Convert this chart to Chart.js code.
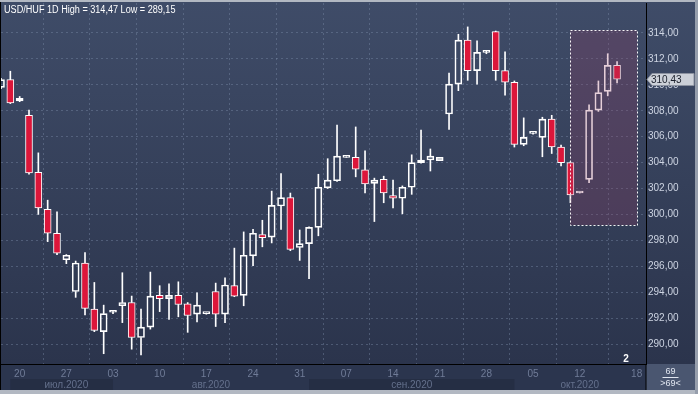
<!DOCTYPE html>
<html><head><meta charset="utf-8">
<script src="https://cdn.jsdelivr.net/npm/chart.js@4.4.0/dist/chart.umd.min.js"></script>
<style>html,body{margin:0;padding:0;background:#2b344c;overflow:hidden}#wrap{width:698px;height:394px;position:relative}canvas{display:block}</style>
</head><body><div id="wrap"><canvas id="c" width="698" height="394"></canvas></div>
<script>
const symbol = 'USD/HUF';
const period = '1D';
// trading days, index 0 = 16 Jul 2020 ... index 66 = 16 Oct 2020
const opens  = [309.8,310.4,308.75,307.65,303.25,300.4,298.55,296.5,294.05,296.25,
                292.7,290.95,292.45,292.95,293.2,290.5,291.3,293.75,293.5,293.75,
                293.1,292.3,292.35,294.05,292.3,294.5,293.75,296.8,298.45,298.25,
                300.65,301.3,297.45,297.75,299.0,302.05,302.6,304.4,304.4,303.45,
                302.4,302.7,301.45,301.25,302.1,304.0,304.2,304.15,307.75,310.05,
                313.45,311.1,312.5,314.1,311.1,310.2,305.4,306.25,305.95,307.35,
                305.2,304.0,301.65,302.7,308.05,309.5,311.5];
const highs  = [310.5,311.05,309.1,308.05,304.75,301.1,300.2,296.9,296.4,297.05,
                294.75,293.0,292.5,295.5,293.7,292.7,295.55,294.5,294.65,294.8,
                293.2,293.95,292.4,294.7,295.1,297.4,298.65,298.85,299.55,301.8,
                303.15,301.65,298.8,299.05,303.1,304.3,306.9,304.45,306.75,304.9,
                302.8,302.95,302.65,302.2,304.6,306.5,305.05,304.4,310.9,313.9,
                314.47,313.4,312.6,314.15,312.55,310.3,307.45,306.3,307.5,307.65,
                305.35,304.05,301.7,308.45,310.3,312.4,311.8];
const lows   = [309.7,308.55,308.7,303.1,300.0,297.9,296.9,296.2,293.6,292.25,
                290.95,289.25,292.35,291.65,289.6,289.15,291.15,292.5,291.9,292.1,
                290.9,291.7,292.3,291.35,291.65,293.65,292.95,296.05,297.5,297.8,
                298.85,297.2,296.45,295.05,298.35,302.0,302.55,304.4,302.9,301.65,
                299.45,300.9,300.5,300.05,301.55,303.95,303.35,304.15,306.55,309.55,
                310.35,310.05,312.4,310.35,309.2,305.2,305.3,306.2,304.45,304.7,
                303.75,300.9,301.65,302.45,307.95,309.15,310.15];
const closes = [310.4,308.6,308.95,303.2,300.5,298.55,297.0,296.85,296.25,292.75,
                291.05,292.35,292.5,293.2,290.5,291.3,293.7,293.5,293.75,293.05,
                292.2,293.0,292.4,292.3,294.55,293.7,296.85,298.55,298.2,300.7,
                301.3,297.3,297.75,299.0,302.1,302.65,304.5,304.45,303.5,302.35,
                302.65,301.65,301.25,302.1,304.0,304.2,304.5,304.4,310.05,313.45,
                311.1,312.5,312.55,311.1,310.2,305.4,305.95,306.3,307.35,305.2,
                304.0,301.5,301.7,308.05,309.4,311.5,310.43];
const tickDays   = ['20','27','03','10','17','24','31','07','14','21','28','05','12','18'];
const tickIndex  = [2,7,12,17,22,27,32,37,42,47,52,57,62,68.1];
const monthNames = ['июл.2020','авг.2020','сен.2020','окт.2020'];
const monthIndex = [7,22.5,44,62];
const shadedMonths = [[1,12],[33,55]];
const yTicks = [290,292,294,296,298,300,302,304,306,308,310,312,314];
const highlight = {from:60.96, to:68.15, top:314.23, bottom:299.18};
const barsShown = '69';
const pageMark = '2';

const fmt = v => v.toFixed(2).replace('.', ',');
const N = closes.length;
const up = closes.map((c,i)=>c>=opens[i]);
const bodyData  = closes.map((c,i)=>({x:i, y:[opens[i], c]}));
const upperWick = closes.map((c,i)=>({x:i, y:[Math.max(opens[i],c), highs[i]]}));
const lowerWick = closes.map((c,i)=>({x:i, y:[lows[i], Math.min(opens[i],c)]}));

const RED = 'rgb(220,22,58)';
const GRID = 'rgba(125,140,170,0.42)';
const FONT = '"Liberation Sans", Arial, sans-serif';
const noPad = s => { s.paddingTop = 0; s.paddingBottom = 0; s.paddingLeft = 0; s.paddingRight = 0; };

const decor = {
  id:'decor',
  beforeDraw(chart){
    const {ctx, chartArea:a, width:W, height:H} = chart;
    const xs = chart.scales.x;
    ctx.save();
    const g = ctx.createLinearGradient(0,0,0,a.bottom);
    g.addColorStop(0,'rgb(63,76,104)');
    g.addColorStop(1,'rgb(43,52,76)');
    ctx.fillStyle = g; ctx.fillRect(0,0,W,a.bottom);
    ctx.fillStyle = 'rgb(43,53,78)'; ctx.fillRect(0,a.bottom,W,H-a.bottom);
    ctx.fillStyle = 'rgb(37,46,68)';
    shadedMonths.forEach(([s,e])=>{
      const x1 = xs.getPixelForValue(s), x2 = xs.getPixelForValue(e);
      ctx.fillRect(x1, a.bottom+15, x2-x1, H-4-(a.bottom+15));
    });
    ctx.fillStyle = 'rgb(74,86,112)';
    ctx.fillRect(a.right, a.bottom, W-3-a.right, H-4-a.bottom);
    ctx.fillStyle = 'rgb(178,184,194)';
    ctx.fillRect(0,0,W,2);
    ctx.fillRect(0,H-4,W,4);
    ctx.fillStyle = 'rgb(150,158,172)';
    ctx.fillRect(W-3,0,3,H);
    ctx.fillStyle = '#000';
    ctx.fillRect(0,2,1,H-6);
    ctx.fillRect(a.right-0.5, a.bottom, 1, H-4-a.bottom);
    ctx.restore();
  },
  afterDatasetsDraw(chart){
    const {ctx} = chart;
    const xs = chart.scales.x, ys = chart.scales.y;
    const x1 = xs.getPixelForValue(highlight.from), x2 = xs.getPixelForValue(highlight.to);
    const y1 = ys.getPixelForValue(highlight.top), y2 = ys.getPixelForValue(highlight.bottom);
    ctx.save();
    ctx.fillStyle = 'rgba(150,60,100,0.25)';
    ctx.fillRect(x1,y1,x2-x1,y2-y1);
    ctx.strokeStyle = 'rgba(255,255,255,0.95)';
    ctx.lineWidth = 1; ctx.setLineDash([2,2]);
    ctx.strokeRect(Math.round(x1)+0.5, Math.round(y1)+0.5, Math.round(x2-x1), Math.round(y2-y1));
    ctx.restore();
  },
  afterDraw(chart){
    const {ctx, chartArea:a, width:W, height:H} = chart;
    const ys = chart.scales.y;
    ctx.save();
    ctx.font = '10px ' + FONT;
    ctx.fillStyle = '#ffffff';
    ctx.textBaseline = 'alphabetic'; ctx.textAlign = 'left';
    ctx.save();
    ctx.translate(4, 13); ctx.scale(0.91, 1);
    ctx.fillText(`${symbol} ${period} High = ${fmt(Math.max(...highs))} Low = ${fmt(Math.min(...lows))}`, 0, 0);
    ctx.restore();
    const last = closes[N-1];
    const yl = Math.round(ys.getPixelForValue(last)) + 0.5;
    ctx.beginPath();
    ctx.moveTo(a.right+1, yl);
    ctx.lineTo(a.right+6, yl-6);
    ctx.lineTo(W-4, yl-6);
    ctx.lineTo(W-4, yl+6);
    ctx.lineTo(a.right+6, yl+6);
    ctx.closePath();
    ctx.fillStyle = 'rgb(204,208,216)'; ctx.fill();
    ctx.strokeStyle = 'rgb(140,146,160)'; ctx.lineWidth = 1; ctx.stroke();
    ctx.fillStyle = '#1a1f2b'; ctx.textBaseline = 'middle';
    ctx.fillText(fmt(last), a.right+5, yl+0.5);
    const cx = (a.right + W - 3)/2;
    ctx.textAlign = 'center';
    ctx.font = '9px ' + FONT;
    ctx.fillStyle = 'rgb(225,230,240)';
    ctx.fillText(barsShown, cx, a.bottom+8);
    ctx.fillRect(cx-8, a.bottom+13, 16, 1);
    ctx.fillText('>' + barsShown + '<', cx, a.bottom+20);
    ctx.font = 'bold 10px ' + FONT;
    ctx.fillStyle = '#ffffff';
    ctx.fillText(pageMark, a.right-20, a.bottom-5);
    ctx.restore();
  }
};

const common = {xAxisID:'x', yAxisID:'y', grouped:false, borderSkipped:false};
new Chart(document.getElementById('c'), {
  type:'bar',
  data:{datasets:[
    Object.assign({label:'body', data:bodyData, barThickness:7, minBarLength:2, borderWidth:1,
      borderColor:'#ffffff', backgroundColor: up.map(u=>u?'rgba(0,0,0,0)':RED)}, common),
    Object.assign({label:'hi', data:upperWick, barThickness:1, borderWidth:0, backgroundColor:'#ffffff'}, common),
    Object.assign({label:'lo', data:lowerWick, barThickness:1, borderWidth:0, backgroundColor:'#ffffff'}, common)
  ]},
  options:{
    responsive:false, animation:false, devicePixelRatio:1,
    layout:{padding:{top:3,left:1,right:3,bottom:4}},
    plugins:{legend:{display:false}, tooltip:{enabled:false}, title:{display:false}},
    scales:{
      x:{type:'linear', position:'bottom', weight:0, min:0, max:69.1, offset:false,
        afterBuildTicks:s=>{s.ticks = tickIndex.map(v=>({value:v}));},
        afterFit:s=>{s.height = 15; noPad(s);},
        ticks:{autoSkip:false, maxRotation:0, padding:4, color:'rgb(112,124,152)',
          font:{size:10, family:FONT}, callback:(v,i)=>tickDays[i]},
        grid:{color:GRID, drawTicks:false, lineWidth:1},
        border:{display:true, color:'#000', width:1, dash:[2,3]}},
      x2:{type:'linear', position:'bottom', weight:1, min:0, max:69.1, offset:false,
        afterBuildTicks:s=>{s.ticks = monthIndex.map(v=>({value:v}));},
        afterFit:s=>{s.height = 11; noPad(s);},
        ticks:{autoSkip:false, maxRotation:0, padding:0, color:'rgb(100,112,140)',
          font:{size:10, family:FONT}, callback:(v,i)=>monthNames[i]},
        grid:{display:false, drawTicks:false}, border:{display:false}},
      y:{type:'linear', position:'right', min:288.457, max:316.315,
        afterBuildTicks:s=>{s.ticks = yTicks.map(v=>({value:v}));},
        afterFit:s=>{s.width = 49; noPad(s);},
        ticks:{padding:2, color:'rgb(205,212,226)', font:{size:10, family:FONT}, callback:v=>fmt(v)},
        grid:{color:GRID, drawTicks:false, lineWidth:1},
        border:{display:true, color:'#000', width:1, dash:[2,3]}}
    }
  },
  plugins:[decor]
});
</script></body></html>
